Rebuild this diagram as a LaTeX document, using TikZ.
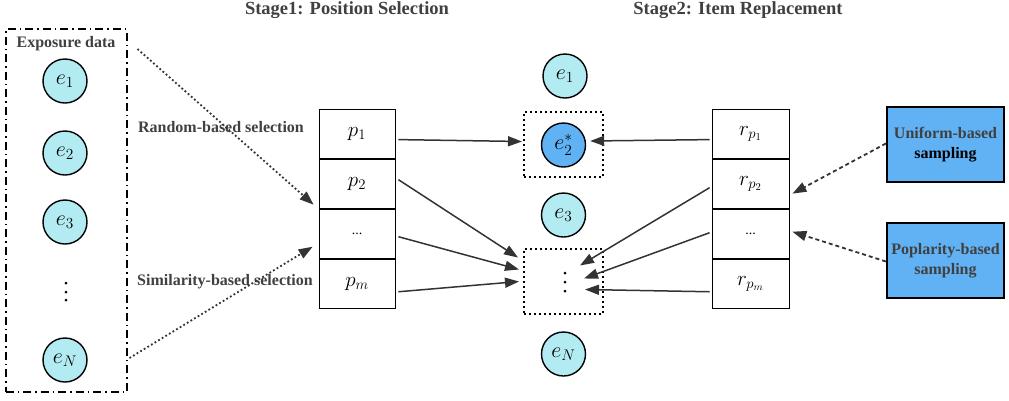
\documentclass[tikz,border=0pt]{standalone}
\usepackage{fix-cm}
\usepackage{fontspec}
\setmainfont{Liberation Serif}
\usetikzlibrary{arrows.meta,calc}
\definecolor{cyanfill}{RGB}{178,235,242}
\definecolor{bluefill}{RGB}{97,178,245}
\definecolor{ink}{RGB}{51,51,51}
\definecolor{txt}{RGB}{64,64,64}
\begin{document}
\begin{tikzpicture}[x=1pt,y=-1pt,
  lbl/.style={font=\bfseries\fontsize{16}{18}\selectfont, text=txt, inner sep=0},
  ttl/.style={font=\bfseries\fontsize{18.5}{20}\selectfont, text=txt, inner sep=0},
  item/.style={circle, draw=black, line width=1.4pt, fill=cyanfill, minimum size=44pt, inner sep=0, font=\fontsize{22}{24}\selectfont},
  itemstar/.style={item, fill=bluefill},
  cell/.style={draw=black, line width=0.8pt, minimum height=49.25pt, inner sep=0, font=\fontsize{21}{24}\selectfont},
  dcell/.style={cell, font=\fontsize{14}{16}\selectfont},
  dbox/.style={draw=black, line width=2pt, dash pattern=on 2pt off 3pt},
  samp/.style={draw=black, line width=2.2pt, fill=bluefill, minimum width=117pt, minimum height=75pt, align=center, font=\bfseries\fontsize{16}{20}\selectfont, text=txt},
  arr/.style={draw=ink, line width=1.5pt, -{Triangle[length=14pt,width=10pt]}},
  darr/.style={arr, line width=1.8pt, dash pattern=on 1.8pt off 2.4pt},
  sarr/.style={arr, line width=1.8pt, dash pattern=on 4pt off 3pt},
  dotc/.style={circle, fill=black, inner sep=0, minimum size=3pt}
]
\useasboundingbox (0,0) rectangle (1009,400);

% titles
\node[ttl] (t1) at (347,10) {Stage1: Position Selection};
\node[ttl] (t2) at (738,10) {Stage2: Item Replacement};

% exposure data box
\node[draw=black, line width=2pt, dash pattern=on 8pt off 4pt on 1.5pt off 4pt, minimum width=121pt, minimum height=363pt, inner sep=0] (exp) at (66,210.5) {};
\node[lbl] (expl) at (66,44) {Exposure data};
\node[item] (le1) at (65,81) {$e_1$};
\node[item] (le2) at (65,153) {$e_2$};
\node[item] (le3) at (65,222) {$e_3$};
\node[dotc] (ld1) at (66,283) {};
\node[dotc] (ld2) at (66,292) {};
\node[dotc] (ld3) at (66,300) {};
\node[item] (leN) at (65,360) {$e_N$};

% position table
\node[cell, minimum width=76pt] (p1) at (357,133.6) {$p_1$};
\node[cell, minimum width=76pt, anchor=north] (p2) at (p1.south) {$p_2$};
\node[dcell, minimum width=76pt, anchor=north] (pd) at (p2.south) {...};
\node[cell, minimum width=76pt, anchor=north] (pm) at (pd.south) {$p_m$};

% middle column
\node[item] (me1) at (565,76) {$e_1$};
\node[dbox, minimum width=79pt, minimum height=65pt, inner sep=0] (box1) at (563.5,144.5) {};
\node[itemstar] (me2) at (563.5,145) {$e_2^*$};
\node[item] (me3) at (563.5,215) {$e_3$};
\node[dbox, minimum width=79pt, minimum height=65pt, inner sep=0] (box2) at (563.5,281.5) {};
\node[dotc] (md1) at (565,273) {};
\node[dotc] (md2) at (565,282) {};
\node[dotc] (md3) at (565,291) {};
\node[item] (meN) at (563.5,354) {$e_N$};

% replacement table
\node[cell, minimum width=77pt] (r1) at (750.5,133.6) {$r_{p_1}$};
\node[cell, minimum width=77pt, anchor=north] (r2) at (r1.south) {$r_{p_2}$};
\node[dcell, minimum width=77pt, anchor=north] (rd) at (r2.south) {...};
\node[cell, minimum width=77pt, anchor=north] (rm) at (rd.south) {$r_{p_m}$};

% sampling boxes
\node[samp] (uni) at (945.5,144.5) {Uniform-based\\\textcolor{black}{sampling}};
\node[samp] (pop) at (945.5,260.5) {Poplarity-based\\sampling};

% selection labels
\node[lbl] (rnd) at (221,127) {Random-based selection};
\node[lbl] (sim) at (225,282) {Similarity-based selection};

% selection arrows
\draw[darr] ([shift={(10,21)}]exp.north east) -- ([shift={(-5,-4)}]p2.south west);
\draw[darr] ([shift={(2,-35)}]exp.south east) -- ([shift={(-6,13)}]pd.west);

% position -> items
\draw[arr] ([shift={(3,6)}]p1.east) -- ([shift={(-1,-3)}]box1.west);
\draw[arr] ([shift={(3,-4)}]p2.east) -- ([shift={(-5,-24)}]box2.west);
\draw[arr] ([shift={(3,3)}]pd.east) -- ([shift={(-4,-12)}]box2.west);
\draw[arr] ([shift={(3,8)}]pm.east) -- ([shift={(-4,0)}]box2.west);

% replacement -> items
\draw[arr] ([shift={(-2,6)}]r1.west) -- ([shift={(4,-4)}]me2.east);
\draw[arr] ([shift={(-2,4)}]r2.west) -- ([shift={(-24,-16)}]box2.east);
\draw[arr] ([shift={(-2,-1)}]rd.west) -- ([shift={(-20,-3)}]box2.east);
\draw[arr] ([shift={(-2,8)}]rm.west) -- ([shift={(-19,8)}]box2.east);

% sampling arrows
\draw[sarr] ([yshift=1]uni.west) -- ([shift={(3,10)}]r2.east);
\draw[sarr] ([yshift=-1]pop.west) -- ([shift={(3,-2)}]rd.east);
\end{tikzpicture}
\end{document}
